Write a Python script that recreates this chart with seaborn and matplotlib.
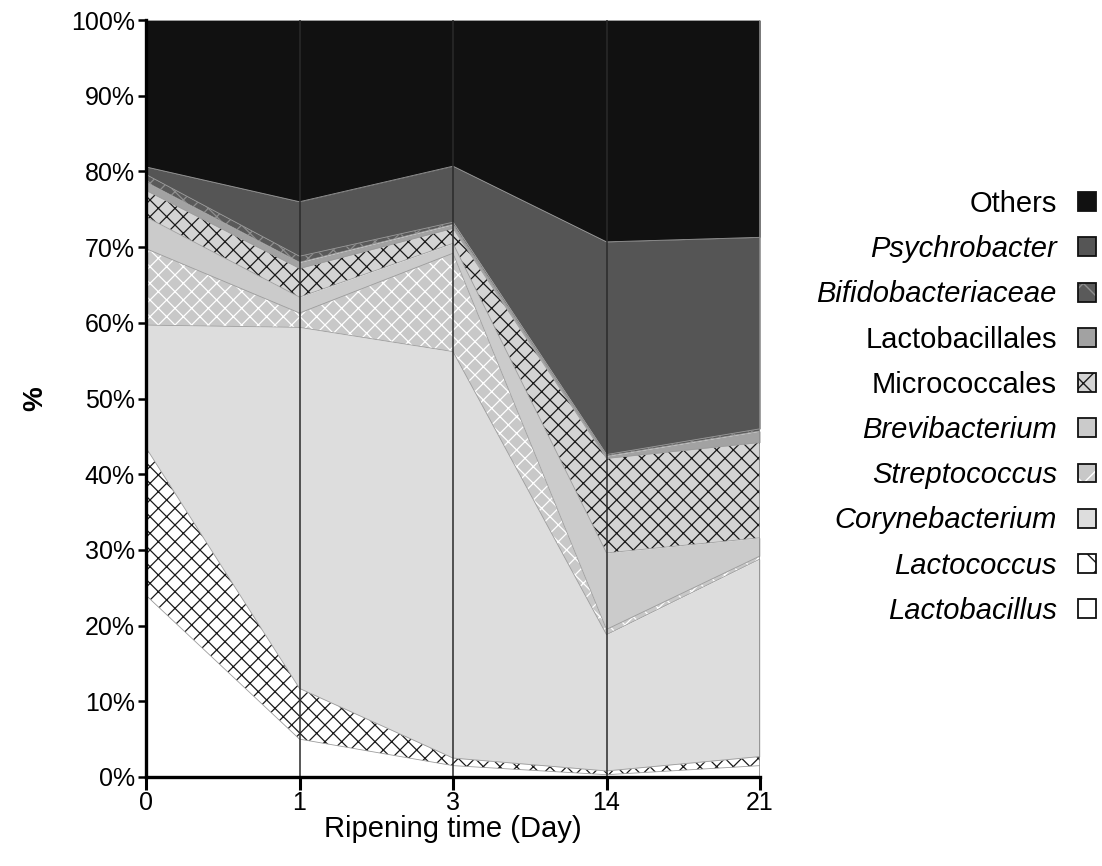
import matplotlib
matplotlib.use("Agg")
import matplotlib.pyplot as plt
from matplotlib.patches import Patch
from matplotlib.colors import to_rgba
import seaborn as sns
import pandas as pd
import numpy as np

# Relative abundance (%) per ripening day
days = ['0', '1', '3', '14', '21']

taxa = ['Lactobacillus', 'Lactococcus', 'Corynebacterium', 'Streptococcus',
        'Brevibacterium', 'Micrococcales', 'Lactobacillales',
        'Bifidobacteriaceae', 'Psychrobacter', 'Others']

lactobacillus = [24.0, 5.0, 1.5, 0.3, 1.5]
lactococcus = [19.5, 6.7, 1.0, 0.5, 1.2]
corynebacterium = [16.2, 47.7, 53.7, 18.0, 26.1]
streptococcus = [10.1, 1.9, 13.0, 0.7, 0.4]
brevibacterium = [4.2, 2.1, 1.3, 10.1, 2.4]
micrococcales = [3.5, 3.8, 2.0, 12.5, 12.6]
lactobacillales = [1.1, 0.8, 0.5, 0.3, 1.5]
bifidobacteriaceae = [1.0, 0.8, 0.3, 0.2, 0.3]
psychrobacter = [1.0, 7.2, 7.4, 28.1, 25.3]
others = [19.4, 24.0, 19.3, 29.3, 28.7]

series = [lactobacillus, lactococcus, corynebacterium, streptococcus,
          brevibacterium, micrococcales, lactobacillales,
          bifidobacteriaceae, psychrobacter, others]

italic_names = ['Lactobacillus', 'Lactococcus', 'Corynebacterium', 'Streptococcus',
                'Brevibacterium', 'Bifidobacteriaceae', 'Psychrobacter']

# facecolor, hatch, hatch colour
styles = {
    'Lactobacillus': ('#ffffff', None, '#000000'),
    'Lactococcus': ('#ffffff', 'xx', '#1a1a1a'),
    'Corynebacterium': ('#dddddd', None, '#000000'),
    'Streptococcus': ('#c8c8c8', 'xx', '#ffffff'),
    'Brevibacterium': ('#cbcbcb', None, '#000000'),
    'Micrococcales': ('#d4d4d4', 'xx', '#1a1a1a'),
    'Lactobacillales': ('#a2a2a2', None, '#000000'),
    'Bifidobacteriaceae': ('#5a5a5a', 'xx', '#8e8e8e'),
    'Psychrobacter': ('#555555', None, '#000000'),
    'Others': ('#111111', None, '#000000'),
}

sns.set_style("ticks")
plt.rcParams['font.family'] = ['Liberation Sans', 'DejaVu Sans']
plt.rcParams['text.color'] = 'black'
plt.rcParams['axes.labelcolor'] = 'black'
plt.rcParams['xtick.color'] = 'black'
plt.rcParams['ytick.color'] = 'black'

fig = plt.figure(figsize=(11.02, 8.66), dpi=100)
ax = fig.add_axes([0.1325, 0.1028, 0.5572, 0.874])

x = np.arange(len(days))
cum = np.zeros(len(days))
rows = []
for name, vals in zip(taxa, series):
    fc, hatch, hc = styles[name]
    top = cum + np.array(vals)
    with plt.rc_context({'hatch.color': hc, 'hatch.linewidth': 0.9}):
        ax.fill_between(x, cum, top, facecolor=fc, hatch=hatch,
                        edgecolor=hc, linewidth=0, zorder=1)
    for i, d in enumerate(days):
        rows.append({'pos': i, 'top': top[i], 'taxon': name})
    cum = top

# thin boundary lines between the layers
df_lines = pd.DataFrame(rows)
df_lines = df_lines[df_lines['taxon'] != 'Others']
sns.lineplot(data=df_lines, x='pos', y='top', units='taxon', estimator=None,
             color='#9c9c9c', linewidth=0.6, ax=ax, legend=False, zorder=2)

# vertical lines at each sampling day
for i in x[1:-1]:
    ax.axvline(i, color='#2a2a2a', linewidth=1.1, zorder=3)
ax.axvline(x[-1], color='#8a8a8a', linewidth=1.2, zorder=3)

ax.set_xlim(0, len(days) - 1)
ax.set_ylim(0, 100)
ax.set_xticks(x)
ax.set_xticklabels(days)
ax.set_yticks(np.arange(0, 101, 10))
ax.set_yticklabels([f'{v}%' for v in range(0, 101, 10)])
ax.tick_params(axis='x', labelsize=18, length=9, width=2.2, pad=1)
ax.tick_params(axis='y', labelsize=18, length=6, width=1.8, pad=2)
sns.despine(ax=ax, top=True, right=True)
for s in ['left', 'bottom']:
    ax.spines[s].set_linewidth(2.4)
    ax.spines[s].set_color('black')
    ax.spines[s].set_zorder(4)

ax.set_xlabel('Ripening time (Day)', fontsize=21, labelpad=0)
ax.set_ylabel('%', fontsize=20, fontweight='bold', labelpad=16)

# legend: text on the left, box on the right, top entry first
handles = []
for name in reversed(taxa):
    fc, hatch, hc = styles[name]
    leg_hatch = 'x' if hatch else None
    p = Patch(facecolor=fc, edgecolor='#111111', hatch=leg_hatch, linewidth=1.3, label=name)
    p._hatch_color = to_rgba(hc)
    handles.append(p)

leg = fig.legend(handles=handles, loc='upper right',
                 bbox_to_anchor=(1096 / 1102, 1 - 190 / 866),
                 frameon=False, markerfirst=False, fontsize=21,
                 handlelength=0.62, handleheight=0.62, handletextpad=0.72,
                 labelspacing=0.59, borderpad=0, borderaxespad=0)
for t in leg.get_texts():
    if t.get_text() in italic_names:
        t.set_style('italic')

fig.savefig('out.png', dpi=100)
